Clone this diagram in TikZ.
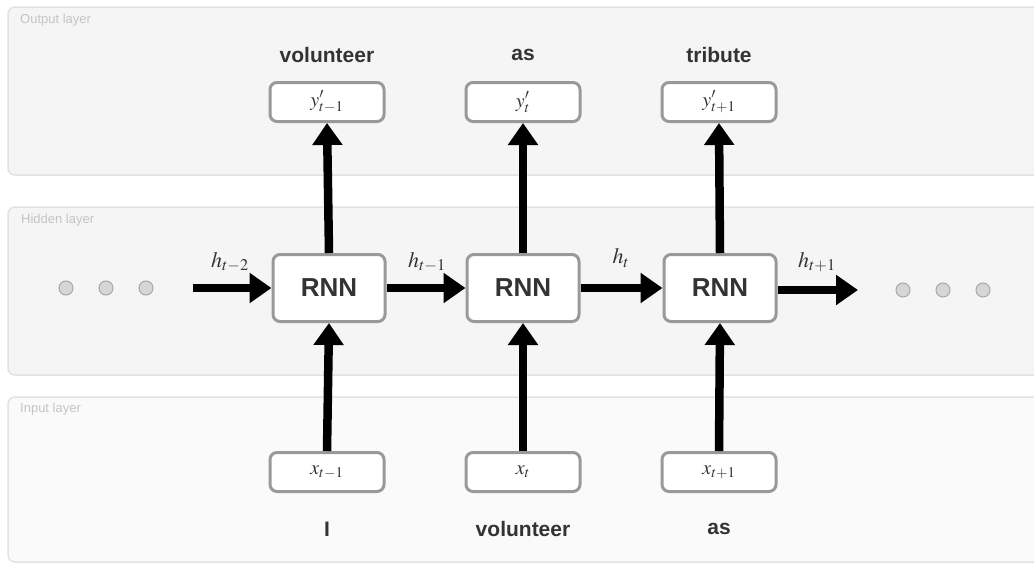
\documentclass[tikz,border=0pt]{standalone}
\usepackage{mathptmx}
\usepackage{fontspec}
\setmainfont{Liberation Sans}
\usetikzlibrary{arrows.meta}
\definecolor{layerfill}{HTML}{F5F5F5}
\definecolor{inputfill}{HTML}{FAFAFA}
\definecolor{layerline}{HTML}{E2E2E2}
\definecolor{layertext}{HTML}{C4C4C4}
\definecolor{boxline}{HTML}{999999}
\definecolor{wordcol}{HTML}{333333}
\definecolor{dotfill}{HTML}{D6D6D6}
\definecolor{dotline}{HTML}{A8A8A8}
\tikzset{
  layer/.style={draw=layerline, line width=1.5pt, rounded corners=7pt},
  layername/.style={anchor=base west, text=layertext, font=\fontsize{13}{15}\selectfont, inner sep=0pt},
  rnnbox/.style={draw=boxline, line width=3pt, fill=white, rounded corners=7pt,
    minimum width=112pt, minimum height=67pt, font=\fontsize{26}{30}\selectfont\bfseries, text=wordcol},
  iobox/.style={draw=boxline, line width=3pt, fill=white, rounded corners=7pt,
    minimum width=114pt, minimum height=39pt, font=\fontsize{20}{24}\selectfont, text=wordcol},
  word/.style={font=\fontsize{21}{25}\selectfont\bfseries, text=wordcol, inner sep=0pt},
  hlabel/.style={font=\fontsize{22}{26}\selectfont, text=wordcol, inner sep=0pt},
  flow/.style={line width=8.5pt, -{Triangle[width=29pt,length=22pt]}},
  dot/.style={circle, draw=dotline, fill=dotfill, line width=1pt, minimum size=14pt, inner sep=0pt},
}
\begin{document}
\begin{tikzpicture}[x=1pt, y=-1pt]
\useasboundingbox (0,0) rectangle (1034,563);
\fill[white] (0,0) rectangle (1034,563);
\begin{scope}
\clip (0,0) rectangle (1034,563);
% layer panels
\draw[layer, fill=layerfill] (8,7) rectangle (1060,175);
\draw[layer, fill=layerfill] (8,207) rectangle (1060,375);
\draw[layer, fill=inputfill] (8,397) rectangle (1060,562);
\end{scope}
\node[layername] (lout) at (20,23) {Output layer};
\node[layername] (lhid) at (21,223) {Hidden layer};
\node[layername] (lin) at (20,412) {Input layer};

% recurrent cells
\node[rnnbox] (r1) at (329,288) {RNN};
\node[rnnbox] (r2) at (523,288) {RNN};
\node[rnnbox] (r3) at (720,288) {RNN};

% outputs
\node[iobox] (y1) at (327,102) {$y'_{t-1}$};
\node[iobox] (y2) at (523,102) {$y'_{t}$};
\node[iobox] (y3) at (719,102) {$y'_{t+1}$};

% inputs
\node[iobox] (x1) at (327,472) {$x_{t-1}$};
\node[iobox] (x2) at (523,472) {$x_{t}$};
\node[iobox] (x3) at (719,472) {$x_{t+1}$};

% words
\node[word] (w1) at (327,55) {volunteer};
\node[word] (w2) at (523,55) {as};
\node[word] (w3) at (719,55) {tribute};
\node[word] (v1) at (327,529) {I};
\node[word] (v2) at (523,529) {volunteer};
\node[word] (v3) at (719,529) {as};

% ellipsis dots
\node[dot] (dl1) at (66,288) {};
\node[dot] (dl2) at (106,288) {};
\node[dot] (dl3) at (146,288) {};
\node[dot] (dr1) at (903,290) {};
\node[dot] (dr2) at (943,290) {};
\node[dot] (dr3) at (983,290) {};

% hidden-state flow
\coordinate (hin) at (193,288);
\coordinate (hout) at (858,290);
\draw[flow] (hin) -- (r1.west);
\draw[flow] (r1.east) -- (r2.west);
\draw[flow] (r2.east) -- (r3.west);
\draw[flow] (r3.east |- hout) -- (hout);

\node[hlabel] (h0) at (230,262) {$h_{t-2}$};
\node[hlabel] (h1) at (427,262) {$h_{t-1}$};
\node[hlabel] (h2) at (621,258) {$h_{t}$};
\node[hlabel] (h3) at (817,262) {$h_{t+1}$};

% input to cell, cell to output
\foreach \i in {1,2,3}{
  \draw[flow] (x\i.north) -- (r\i.south);
  \draw[flow] (r\i.north) -- (y\i.south);
}
\end{tikzpicture}
\end{document}
